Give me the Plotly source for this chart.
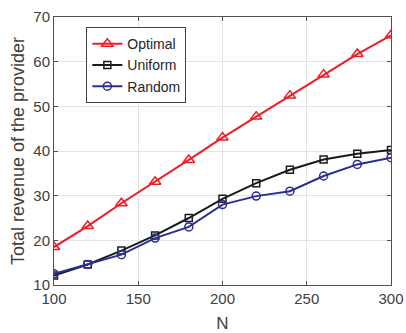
import plotly.graph_objects as go

N = [100, 120, 140, 160, 180, 200, 220, 240, 260, 280, 300]
optimal = [18.5, 23.2, 28.3, 33.1, 38.0, 43.0, 47.7, 52.4, 57.1, 61.7, 65.9]
uniform = [12.1, 14.6, 17.7, 21.1, 25.0, 29.3, 32.8, 35.8, 38.1, 39.4, 40.2]
random_ = [12.5, 14.6, 16.8, 20.5, 23.0, 28.0, 29.9, 31.0, 34.4, 37.0, 38.5]

fig = go.Figure()
fig.add_trace(go.Scatter(x=N, y=optimal, name="Optimal", mode="lines+markers",
                         line=dict(color="#ee1c25", width=2),
                         marker=dict(symbol="triangle-up-open", size=10, color="#ee1c25",
                                     line=dict(width=1.5, color="#ee1c25"))))
fig.add_trace(go.Scatter(x=N, y=uniform, name="Uniform", mode="lines+markers",
                         line=dict(color="#1a1a1a", width=2),
                         marker=dict(symbol="square-open", size=7, color="#1a1a1a",
                                     line=dict(width=1.5, color="#1a1a1a"))))
fig.add_trace(go.Scatter(x=N, y=random_, name="Random", mode="lines+markers",
                         line=dict(color="#2b2f94", width=2),
                         marker=dict(symbol="circle-open", size=8, color="#2b2f94",
                                     line=dict(width=1.5, color="#2b2f94"))))

axis_common = dict(showline=True, linecolor="#505050", linewidth=1, mirror="ticks",
                   ticks="inside", ticklen=4, tickcolor="#505050", automargin=False,
                   showgrid=True, gridcolor="#e3e3e3", gridwidth=1, zeroline=False,
                   tickfont=dict(family="Liberation Sans, Arial", size=15, color="#404040"))

fig.update_layout(
    width=406, height=333,
    margin=dict(l=54, r=15, t=17, b=48),
    paper_bgcolor="white", plot_bgcolor="white",
    xaxis=dict(range=[100, 300], tickvals=[100, 150, 200, 250, 300],
               title=dict(text="N", font=dict(family="Liberation Sans, Arial", size=17, color="#404040")),
               **axis_common),
    yaxis=dict(range=[10, 70], tickvals=[10, 20, 30, 40, 50, 60, 70],
               title=dict(text="Total revenue of the provider", standoff=4,
                          font=dict(family="Liberation Sans, Arial", size=18, color="#404040")),
               **axis_common),
    legend=dict(x=0.096, y=0.962, xanchor="left", yanchor="top",
                bgcolor="white", bordercolor="#404040", borderwidth=1,
                font=dict(family="Liberation Sans, Arial", size=14, color="#262626"),
                tracegroupgap=0, itemwidth=30),
    showlegend=True,
)

fig.write_html("out.html", config={"displayModeBar": False},
               post_script="document.body.style.margin='0';")
